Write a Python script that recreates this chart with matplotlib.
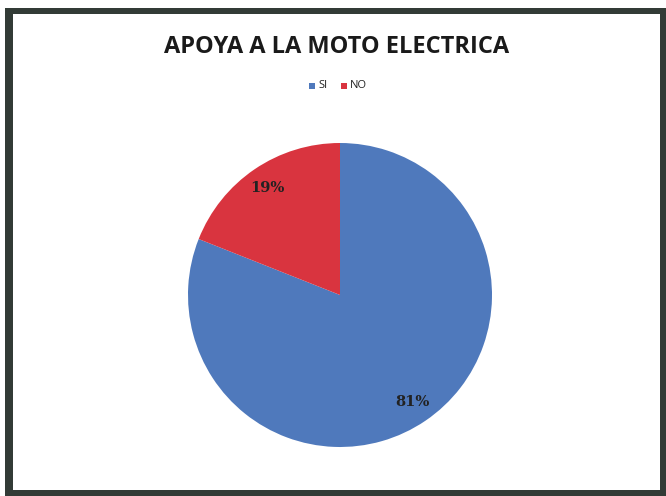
import matplotlib.pyplot as plt
from matplotlib.patches import Rectangle

categories = ['SI', 'NO']
values = [81, 19]
colors = ['#4F79BC', '#D9343F']
title = 'APOYA A LA MOTO ELECTRICA'

W, H = 666, 496
fig = plt.figure(figsize=(W / 100, H / 100), dpi=100)
fig.patch.set_facecolor('white')

# dark scanned frame around the chart
frame = Rectangle((5 / W, 0), (W - 5) / W, (H - 8) / H, transform=fig.transFigure,
                  facecolor='#323b36', edgecolor='none', zorder=0)
fig.patches.append(frame)
inner = Rectangle((13 / W, 6 / H), (W - 19) / W, (H - 20) / H, transform=fig.transFigure,
                  facecolor='white', edgecolor='none', zorder=1)
fig.patches.append(inner)

cx, cy, r = 340, 295, 152
ax = fig.add_axes([(cx - r) / W, (H - cy - r) / H, 2 * r / W, 2 * r / H])
ax.set_zorder(2)
wedges, texts, autotexts = ax.pie(values, colors=colors, startangle=90, counterclock=False,
                                  autopct='%1.0f%%', pctdistance=0.85, radius=1,
                                  wedgeprops={'linewidth': 0},
                                  textprops={'fontsize': 10.5, 'fontweight': 'bold',
                                             'family': 'DejaVu Serif', 'color': '#222222'})
ax.set_xlim(-1, 1)
ax.set_ylim(-1, 1)
ax.set_aspect('equal')
ax.axis('off')

fig.text(337 / W, 1 - 47 / H, title, ha='center', va='center', fontsize=17,
         fontweight='bold', family='Open Sans', color='#1a1a1a')

# legend
ly = 1 - 86 / H
fig.patches.append(Rectangle((309 / W, ly - 3 / H), 6 / W, 6 / H, transform=fig.transFigure,
                             facecolor=colors[0], edgecolor='none', zorder=3))
fig.text(318 / W, ly, categories[0], ha='left', va='center', fontsize=8,
         family='Open Sans', color='#222222')
fig.patches.append(Rectangle((341 / W, ly - 3 / H), 6 / W, 6 / H, transform=fig.transFigure,
                             facecolor=colors[1], edgecolor='none', zorder=3))
fig.text(350 / W, ly, categories[1], ha='left', va='center', fontsize=8,
         family='Open Sans', color='#222222')

fig.savefig('out.png', dpi=100)
